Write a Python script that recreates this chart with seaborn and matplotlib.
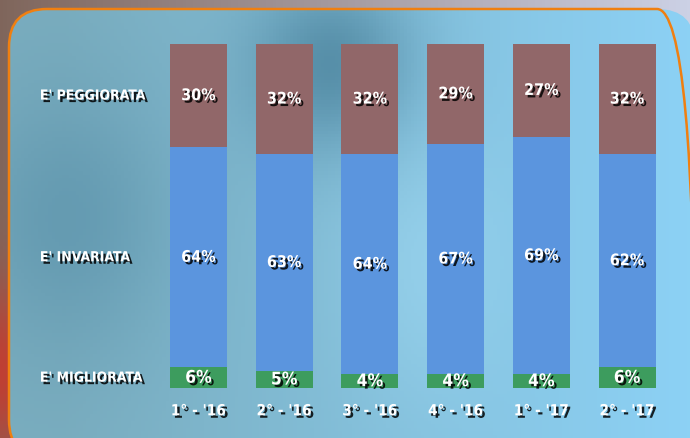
import numpy as np
import pandas as pd
import seaborn as sns
import matplotlib.pyplot as plt
import matplotlib.patheffects as pe
from matplotlib.patches import FancyBboxPatch

periods = ["1° - '16", "2° - '16", "3° - '16", "4° - '16", "1° - '17", "2° - '17"]
migliorata = [6, 5, 4, 4, 4, 6]
invariata = [64, 63, 64, 67, 69, 62]
peggiorata = [30, 32, 32, 29, 27, 32]
row_labels = ["E' PEGGIORATA", "E' INVARIATA", "E' MIGLIORATA"]

sns.set_style("white")
plt.rcParams['font.family'] = ['DejaVu Sans']

fig = plt.figure(figsize=(6.9, 4.39), dpi=100)

# blurred-looking background: photo outside, panel inside the rounded frame
bg = fig.add_axes([0, 0, 1, 1])
bg.set_xlim(0, 690)
bg.set_ylim(0, 439)
bg.axis("off")
xx, yy = np.meshgrid(np.linspace(0, 1, 200), np.linspace(0, 1, 130))

s = xx[..., None]
outer = np.array([0.50, 0.40, 0.36]) * (1 - s) + np.array([0.80, 0.82, 0.90]) * s
red = np.exp(-(((xx - 0.0) / 0.05) ** 2 + ((yy - 0.85) / 0.2) ** 2))[..., None]
outer = outer * (1 - red) + np.array([0.75, 0.25, 0.20]) * red
bg.imshow(outer, extent=(0, 690, 0, 439), origin="upper", aspect="auto", zorder=0)

c1 = np.array([0.48, 0.68, 0.75])
c2 = np.array([0.34, 0.56, 0.66])
c3 = np.array([0.55, 0.82, 0.96])
t = np.clip(xx * 1.1 - 0.1, 0, 1)[..., None]
img = c1 * (1 - t) + c3 * t
blob = np.exp(-(((xx - 0.48) / 0.12) ** 2 + ((yy - 0.15) / 0.2) ** 2))[..., None]
img = img * (1 - blob) + c2 * blob
blob2 = np.exp(-(((xx - 0.1) / 0.15) ** 2 + ((yy - 0.5) / 0.3) ** 2))[..., None]
img = img * (1 - 0.6 * blob2) + c2 * 0.6 * blob2
blob3 = np.exp(-(((xx - 0.62) / 0.12) ** 2 + ((yy - 0.6) / 0.3) ** 2))[..., None]
img = img * (1 - 0.4 * blob3) + np.array([0.66, 0.88, 0.98]) * 0.4 * blob3
im = bg.imshow(img, extent=(0, 690, 0, 439), origin="upper", aspect="auto", zorder=1)
box = FancyBboxPatch((9, -20), 686, 449, boxstyle="round,pad=0,rounding_size=38",
                     facecolor="none", edgecolor="#f07f10", linewidth=1.8, zorder=2)
bg.add_patch(box)
im.set_clip_path(box)

ax = fig.add_axes([0.2255, 0.1139, 0.7454, 0.7836])
ax.patch.set_alpha(0)

df = pd.DataFrame({"period": periods, "mig": migliorata, "inv": invariata, "peg": peggiorata})
df["inv_bottom"] = df["mig"]
df["peg_bottom"] = df["mig"] + df["inv"]

w = 0.665
sns.barplot(data=df, x="period", y="mig", color="#3d9c5e", saturation=1, width=w,
            linewidth=0, ax=ax)
sns.barplot(data=df, x="period", y="inv", bottom=df["inv_bottom"], color="#5b95de",
            saturation=1, width=w, linewidth=0, ax=ax)
sns.barplot(data=df, x="period", y="peg", bottom=df["peg_bottom"], color="#916769",
            saturation=1, width=w, linewidth=0, ax=ax)

ax.set_xlim(-0.5, len(periods) - 0.5)
ax.set_ylim(0, 100)
ax.set_xlabel("")
ax.set_ylabel("")
ax.set_yticks([])
sns.despine(ax=ax, left=True, bottom=True)

shadow = [pe.withSimplePatchShadow(offset=(1.8, -1.8), shadow_rgbFace="black", alpha=0.85)]
font = dict(color="white", fontweight="heavy", fontstretch="condensed", path_effects=shadow)

for i in range(len(periods)):
    ax.text(i, df["mig"][i] / 2, f"{migliorata[i]}%", ha="center", va="center", fontsize=12.5, **font)
    ax.text(i, df["inv_bottom"][i] + invariata[i] / 2, f"{invariata[i]}%", ha="center", va="center",
            fontsize=11.5, **font)
    ax.text(i, df["peg_bottom"][i] + peggiorata[i] / 2, f"{peggiorata[i]}%", ha="center", va="center",
            fontsize=11.5, **font)

ax.set_xticks(range(len(periods)))
ax.set_xticklabels(periods, fontsize=11, **font)
ax.tick_params(axis="x", length=0, pad=11)

ys = [df["peg_bottom"][0] + peggiorata[0] / 2, df["inv_bottom"][0] + invariata[0] / 2, migliorata[0] / 2]
for lab, y in zip(row_labels, ys):
    ax.text(-0.225, y, lab, transform=ax.get_yaxis_transform(), ha="left", va="center",
            fontsize=10, **font)

fig.savefig("out.png", dpi=100)
